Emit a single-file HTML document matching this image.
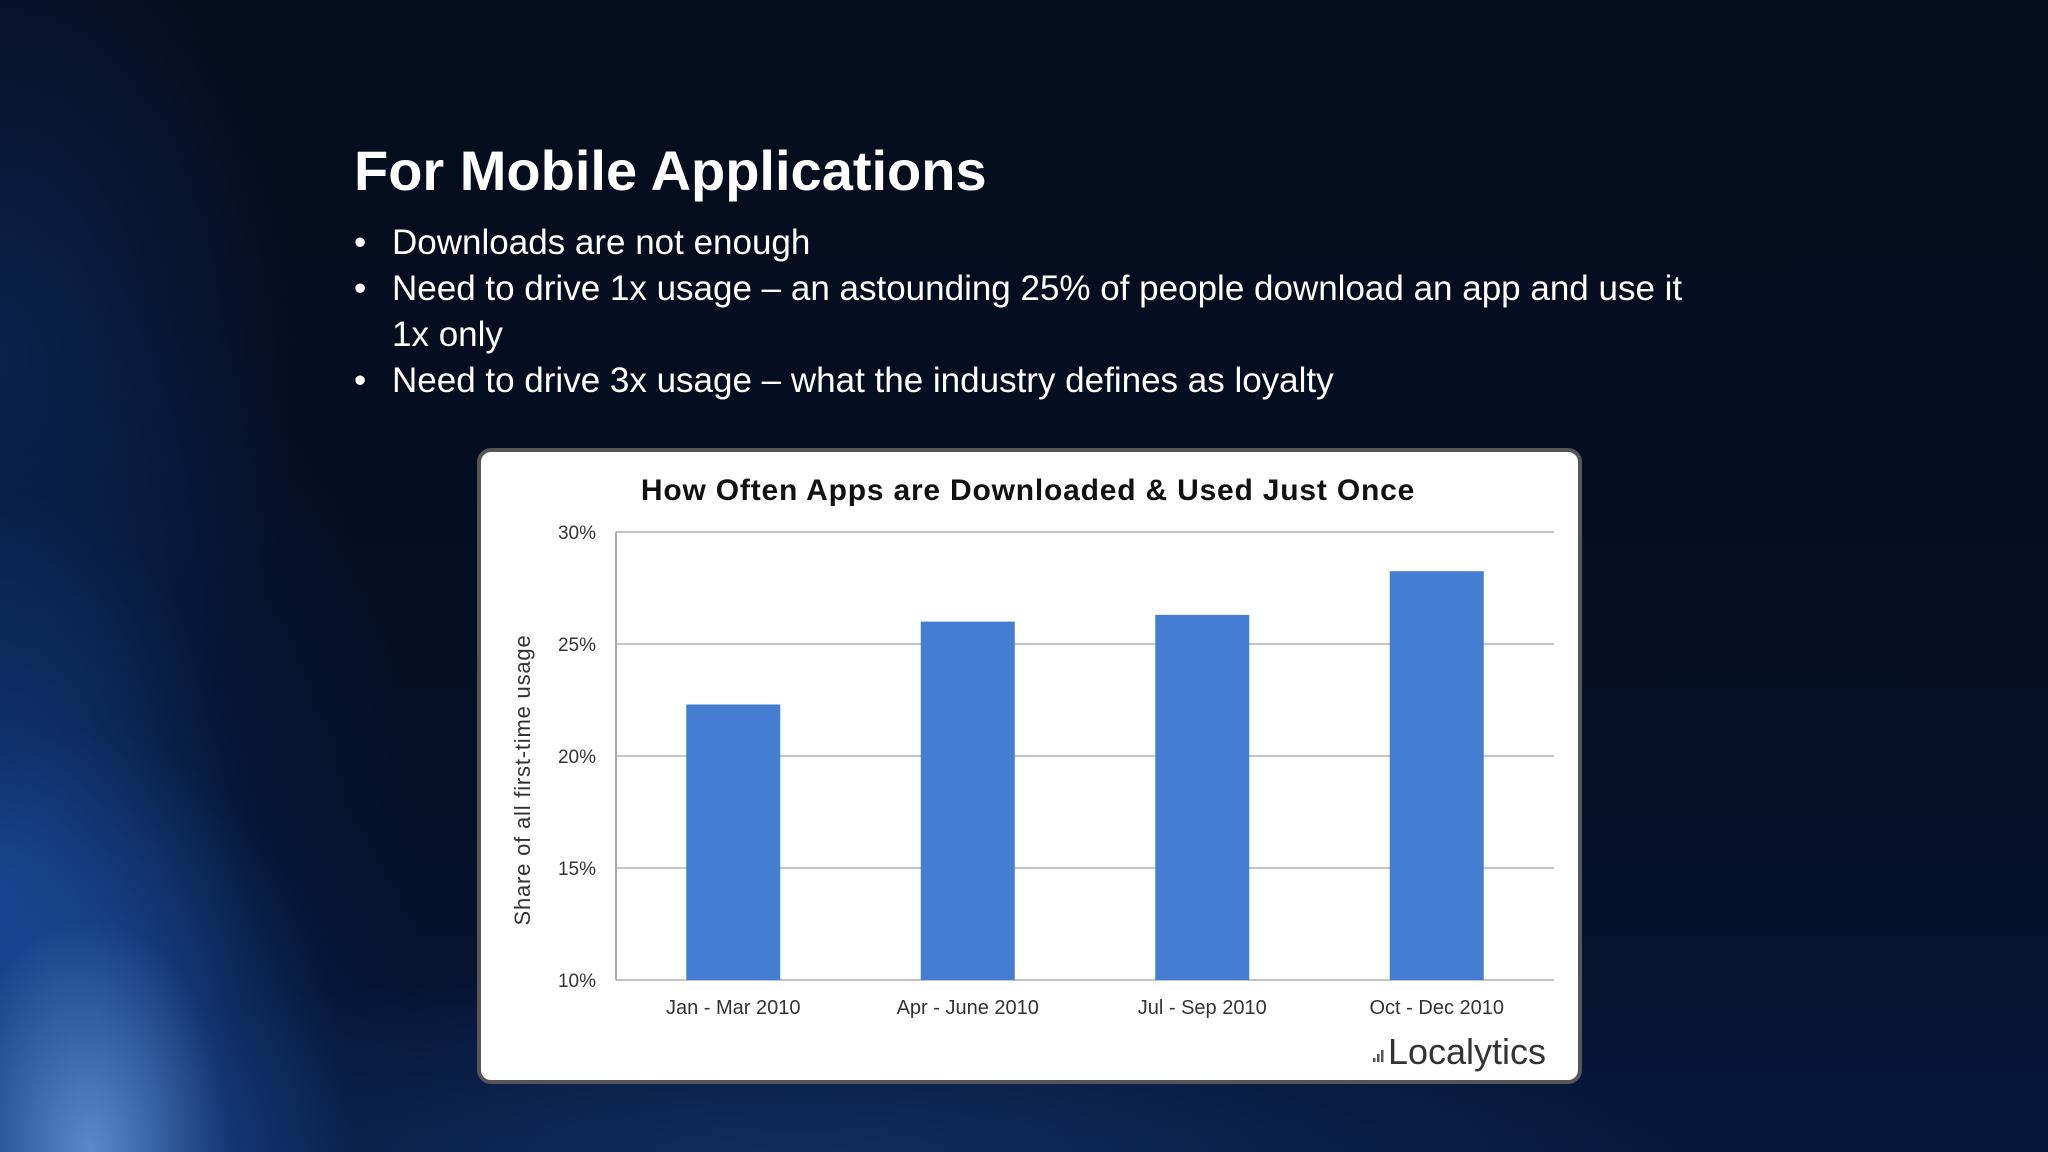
<!DOCTYPE html>
<html><head><meta charset="utf-8">
<style>
html,body{margin:0;padding:0}
body{width:2048px;height:1152px;position:relative;overflow:hidden;font-family:"Liberation Sans",sans-serif;
background:#040b1c;}
.bg{position:absolute;inset:0;background:
radial-gradient(ellipse 260px 420px at 90px 1150px,rgba(120,180,255,0.7),rgba(40,100,200,0.3) 55%,rgba(0,0,0,0) 100%),
radial-gradient(ellipse 420px 650px at 0px 880px,rgba(30,90,190,0.6),rgba(10,40,100,0.25) 60%,rgba(0,0,0,0) 100%),
radial-gradient(ellipse 300px 500px at 0px 350px,rgba(20,70,150,0.35),rgba(0,0,0,0) 100%),
radial-gradient(ellipse 900px 200px at 800px 1160px,rgba(30,70,140,0.45),rgba(0,0,0,0) 100%),
linear-gradient(180deg,#050c1c,#041026 70%,#06173a);}
h1{position:absolute;left:354px;top:138px;margin:0;color:#fff;font-size:56px;font-weight:bold;font-family:"Liberation Sans",sans-serif}
ul{position:absolute;left:354px;top:220px;margin:0;padding:0;list-style:none;color:#fff;font-size:35px;width:1350px;line-height:46px}
li{position:relative;padding-left:38px}
li:before{content:"•";position:absolute;left:0}
.chart{position:absolute;left:477px;top:448px;width:1105px;height:636px;background:#fff;border:4px solid #555;border-radius:14px;box-sizing:border-box}
</style></head><body>
<div class="bg"></div>
<h1>For Mobile Applications</h1>
<ul>
<li>Downloads are not enough</li>
<li>Need to drive 1x usage – an astounding 25% of people download an app and use it 1x only</li>
<li>Need to drive 3x usage – what the industry defines as loyalty</li>
</ul>
<div class="chart"></div>
<svg id="svg" width="2048" height="1152" style="position:absolute;left:0;top:0"></svg>
<script>
const categories=["Jan - Mar 2010","Apr - June 2010","Jul - Sep 2010","Oct - Dec 2010"];
const values=[22.3,26.0,26.3,28.25];
const ticks=[10,15,20,25,30];
const tickLabels=["10%","15%","20%","25%","30%"];
const NS="http://www.w3.org/2000/svg";
const svg=document.getElementById('svg');
const x0=616,x1=1554,yTop=532,yBot=980,yMin=10,yMax=30;
const y=v=>yBot-(v-yMin)/(yMax-yMin)*(yBot-yTop);
const band=(x1-x0)/categories.length;
const xc=i=>x0+band*(i+0.5);
function mk(t,a){const e=document.createElementNS(NS,t);for(const k in a)e.setAttribute(k,a[k]);svg.appendChild(e);return e;}
const title=mk('text',{x:1028,y:500,'font-size':30,'font-weight':'bold','text-anchor':'middle',fill:'#111','letter-spacing':'0.8','font-family':'Liberation Sans, sans-serif'});
title.textContent="How Often Apps are Downloaded & Used Just Once";


ticks.forEach((t,i)=>{
 const l=mk('line',{x1:x0,x2:x1,y1:y(t),y2:y(t),stroke:'#c4c4c4','stroke-width':2});
 
 
 const tx=mk('text',{x:596,y:y(t)+7,'font-size':19,'text-anchor':'end',fill:'#333'});
 tx.textContent=tickLabels[i];
 
 
});
const ax=mk('line',{x1:x0,x2:x0,y1:yTop,y2:yBot,stroke:'#aaa','stroke-width':2});


const bw=94;
values.forEach((v,i)=>{
 const r=mk('rect',{x:xc(i)-bw/2,y:y(v),width:bw,height:yBot-y(v),fill:'#447dd2'});
 
 
 const t=mk('text',{x:xc(i),y:1014,'font-size':20,'text-anchor':'middle',fill:'#333'});
 t.textContent=categories[i];
 
 
});
const yt=mk('text',{x:0,y:0,'font-size':22,'text-anchor':'middle',fill:'#333','letter-spacing':'0.8',transform:'translate(530,780) rotate(-90)'});
yt.textContent="Share of all first-time usage";


const logo=mk('text',{x:1546,y:1064,'font-size':36,'text-anchor':'end',fill:'#333'});
logo.textContent="Localytics";


[4,8,12].forEach((h,i)=>{const b=mk('rect',{x:1373+i*4,y:1062-h,width:2.5,height:h,fill:'#555'});

});
</script>
</body></html>
